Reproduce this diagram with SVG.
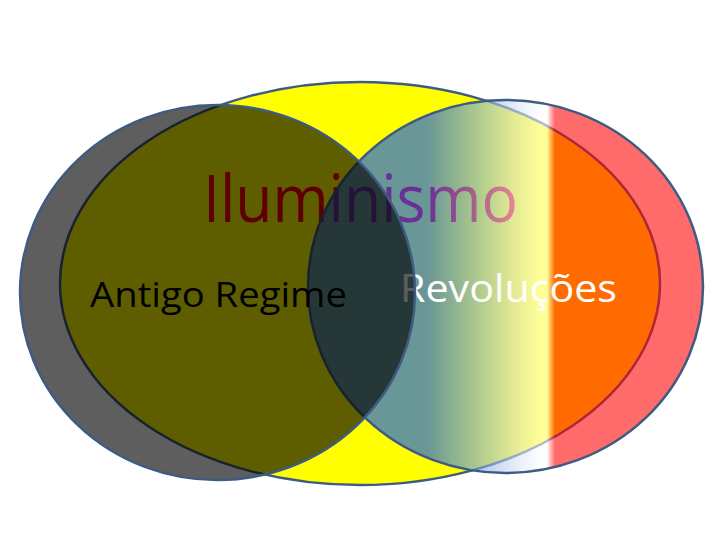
<svg xmlns="http://www.w3.org/2000/svg" width="720" height="540" viewBox="0 0 720 540">
  <style>
    .outline { stroke: #3e5b82; stroke-width: 2.5; }
    .lbl { font-family: "Open Sans", "Noto Sans", "DejaVu Sans", sans-serif; }
  </style>
  <defs>
    <linearGradient id="revGrad" gradientUnits="userSpaceOnUse" x1="308" y1="0" x2="703" y2="0">
      <stop offset="0" stop-color="rgb(5,80,250)" stop-opacity="0.6"/>
      <stop offset="0.30" stop-color="rgb(5,80,250)" stop-opacity="0.6"/>
      <stop offset="0.42" stop-color="rgb(110,160,235)" stop-opacity="0.6"/>
      <stop offset="0.52" stop-color="rgb(210,220,245)" stop-opacity="0.6"/>
      <stop offset="0.59" stop-color="rgb(255,255,255)" stop-opacity="0.6"/>
      <stop offset="0.605" stop-color="rgb(255,255,255)" stop-opacity="0.6"/>
      <stop offset="0.625" stop-color="rgb(255,0,0)" stop-opacity="0.58"/>
      <stop offset="1" stop-color="rgb(255,0,0)" stop-opacity="0.58"/>
    </linearGradient>
  </defs>
  <rect width="720" height="540" fill="#ffffff"/>
  <g id="node-iluminismo">
    <ellipse class="outline" cx="360" cy="283.5" rx="300" ry="201.5" fill="#ffff00"/>
    <text class="lbl" x="203" y="222" font-size="66" fill="#ff0000" textLength="315" lengthAdjust="spacingAndGlyphs">Iluminismo</text>
  </g>
  <g id="node-revolucoes">
    <ellipse class="outline" cx="505.5" cy="286.5" rx="197.5" ry="186.5" fill="url(#revGrad)"/>
    <text class="lbl" x="400" y="302" font-size="38" fill="#ffffff" textLength="217" lengthAdjust="spacingAndGlyphs">Revoluções</text>
  </g>
  <g id="node-antigo-regime">
    <ellipse class="outline" cx="217.5" cy="292.5" rx="197.5" ry="187.5" fill="#000000" fill-opacity="0.63"/>
    <text class="lbl" x="90" y="307" font-size="34" fill="#000000" textLength="257" lengthAdjust="spacingAndGlyphs">Antigo Regime</text>
  </g>
  <g id="connectors"/>
</svg>
